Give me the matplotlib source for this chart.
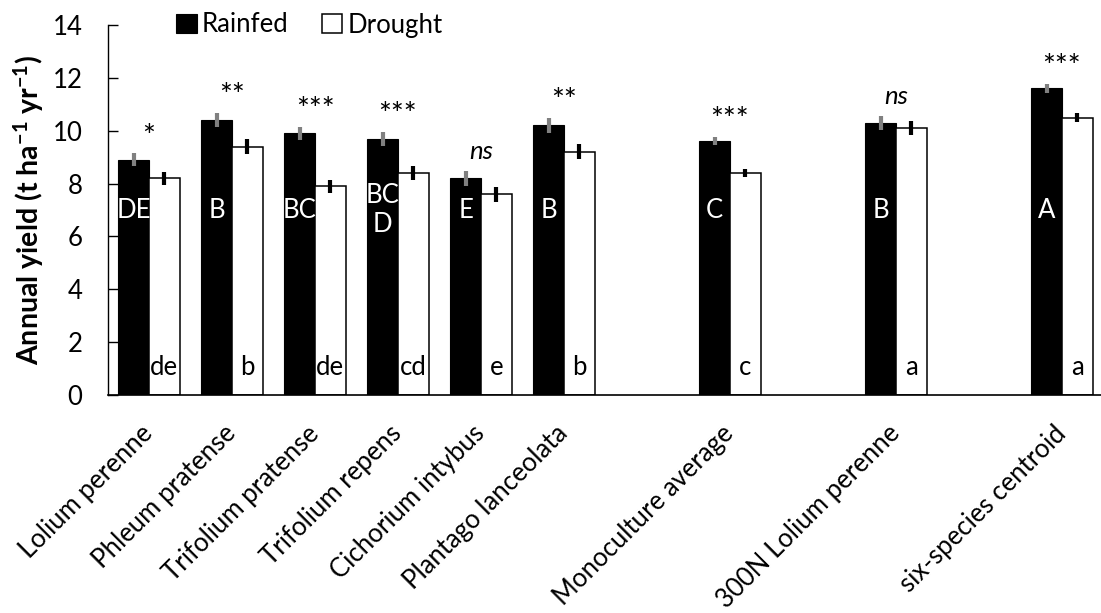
import matplotlib
matplotlib.use("Agg")
import matplotlib.pyplot as plt
import numpy as np

plt.rcParams['font.family'] = ['Lato', 'DejaVu Sans']
plt.rcParams['mathtext.fontset'] = 'custom'
plt.rcParams['mathtext.rm'] = 'Lato'
plt.rcParams['mathtext.bf'] = 'Lato:bold'
plt.rcParams['mathtext.default'] = 'regular'

# data
species = ["Lolium perenne", "Phleum pratense", "Trifolium pratense", "Trifolium repens",
           "Cichorium intybus", "Plantago lanceolata", "Monoculture average",
           "300N Lolium perenne", "six-species centroid"]
positions = [0, 1, 2, 3, 4, 5, 7, 9, 11]
rainfed = [8.9, 10.4, 9.9, 9.7, 8.2, 10.2, 9.6, 10.3, 11.6]
rainfed_err = [0.24, 0.27, 0.25, 0.27, 0.28, 0.27, 0.15, 0.27, 0.16]
drought = [8.2, 9.4, 7.9, 8.4, 7.6, 9.2, 8.4, 10.1, 10.5]
drought_err = [0.25, 0.28, 0.25, 0.27, 0.28, 0.28, 0.14, 0.27, 0.17]
sig = ["*", "**", "***", "***", "ns", "**", "***", "ns", "***"]
upper = ["DE", "B", "BC", "BC\nD", "E", "B", "C", "B", "A"]
lower = ["de", "b", "de", "cd", "e", "b", "c", "a", "a"]

fig = plt.figure(figsize=(11.01, 6.13), dpi=100)
ax = fig.add_axes([107.5 / 1101, 1 - 395 / 613, 996 / 1101, 370 / 613])

x = np.array(positions, dtype=float)
w = 0.37
ax.bar(x - w / 2, rainfed, w, color="black", edgecolor="black", linewidth=0.8,
       label="Rainfed", zorder=2)
ax.bar(x + w / 2, drought, w, color="white", edgecolor="black", linewidth=1.1,
       label="Drought", zorder=2)
ax.errorbar(x - w / 2, rainfed, yerr=rainfed_err, fmt="none", ecolor="#808080",
            elinewidth=3, capsize=0, zorder=3)
ax.errorbar(x + w / 2, drought, yerr=drought_err, fmt="none", ecolor="black",
            elinewidth=3, capsize=0, zorder=3)

fs = 18.5
for xi, r, e, s, u, l in zip(x, rainfed, rainfed_err, sig, upper, lower):
    if s == "ns":
        ax.text(xi, r + e + 0.45, s, ha="center", va="baseline", fontsize=fs,
                style="italic")
    else:
        ax.text(xi, r + e + 0.3, s, ha="center", va="baseline", fontsize=22)
    ax.text(xi - w / 2, 7.0, u, ha="center", va="center", fontsize=fs,
            color="white", linespacing=1.2, zorder=4)
    ax.text(xi + w / 2, 1.05, l, ha="center", va="center", fontsize=fs,
            color="black", zorder=4)

ax.set_xlim(-0.5, 11.5)
ax.set_ylim(0, 14)
ax.set_yticks(np.arange(0, 15, 2))
ax.set_xticks(x)
ax.set_xticklabels(species, rotation=45, ha="right", va="center",
                   rotation_mode="anchor", fontsize=fs)
ax.tick_params(axis="x", length=0, pad=25)
ax.tick_params(axis="y", direction="in", length=7, width=1, pad=18, labelsize=fs)
ax.spines["top"].set_visible(False)
ax.spines["right"].set_visible(False)
ax.spines["left"].set_linewidth(1.0)
ax.spines["bottom"].set_linewidth(1.2)
ax.set_ylabel(r"Annual yield (t ha$\mathbf{^{-1}}$ yr$\mathbf{^{-1}}$)", fontsize=20.5,
              fontweight="bold", labelpad=5)

fig.legend(loc="center left", bbox_to_anchor=(176 / 1101, 1 - 25 / 613), ncol=2,
           frameon=False, fontsize=fs, handlelength=0.8, handleheight=0.8,
           handletextpad=0.2, columnspacing=1.3, borderpad=0, borderaxespad=0)

fig.savefig("out.png", dpi=100)
